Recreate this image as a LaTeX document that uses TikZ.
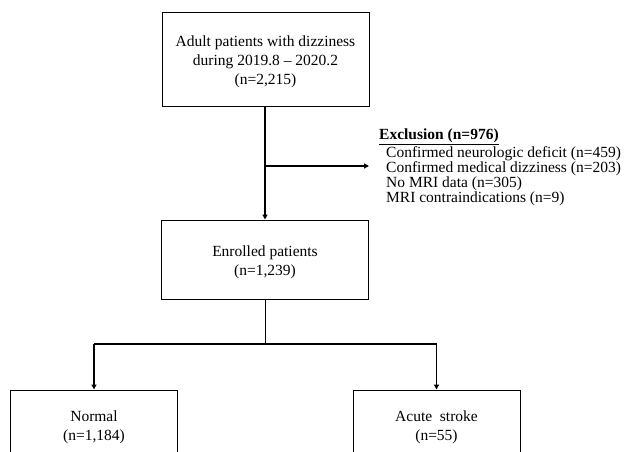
\documentclass[tikz,border=0pt]{standalone}
\usepackage{fontspec}
\setmainfont{Liberation Serif}
\usetikzlibrary{arrows.meta}
\begin{document}
\begin{tikzpicture}[x=1pt,y=-1pt,
  boxtext/.style={align=center,inner sep=0pt,font=\fontsize{15.5}{19}\selectfont,yshift=-3pt},
  box/.style={draw,line width=1pt,minimum width=207pt,inner sep=0pt},
  lowbox/.style={draw,line width=1pt,minimum width=167pt,minimum height=70pt,inner sep=0pt},
  lbl/.style={anchor=west,inner sep=0pt,font=\fontsize{15.5}{15}\selectfont},
  thick arrow/.style={line width=1.8pt,-{Triangle[length=5pt,width=5pt]}},
  thin line/.style={line width=1pt}]
\useasboundingbox (0,0) rectangle (625,451);
\clip (0,0) rectangle (625,451);
\fill[white] (0,0) rectangle (625,451);
\node[box,minimum height=94pt,label={[boxtext]center:{Adult patients with dizziness\\during 2019.8 -- 2020.2\\(n=2,215)}}] (top) at (265.5,59) {};
\node[box,minimum height=79pt,label={[boxtext]center:{Enrolled patients\\(n=1,239)}}] (enr) at (265,259.5) {};
\node[lowbox,label={[boxtext,yshift=1pt]center:{Normal\\(n=1,184)}}] (normal) at (94,425) {};
\node[lowbox,label={[boxtext,yshift=1pt]center:{Acute\ \ stroke\\(n=55)}}] (acute) at (436.5,425) {};
\node[lbl] (exh) at (379,137) {\underline{\textbf{Exclusion (n=976)}}};
\node[lbl] (ex1) at (386,154) {Confirmed neurologic deficit (n=459)};
\node[lbl] (ex2) at (386,168.8) {Confirmed medical dizziness (n=203)};
\node[lbl] (ex3) at (386,184) {No MRI data (n=305)};
\node[lbl] (ex4) at (386,198.7) {MRI contraindications (n=9)};
\coordinate (j) at (265,166);
\coordinate (jend) at (369,166);
\coordinate (br) at (265,344);
\draw[thick arrow] (top.south -| enr.north) -- (enr.north);
\draw[thick arrow] (j) -- (jend);
\draw[thin line] (enr.south) -- (br);
\draw[line width=1.3pt] (br) -- (br -| normal.north) (br) -- (br -| acute.north);
\draw[thick arrow] (br -| normal.north) -- (normal.north);
\draw[thick arrow] (br -| acute.north) -- (acute.north);
\end{tikzpicture}
\end{document}
